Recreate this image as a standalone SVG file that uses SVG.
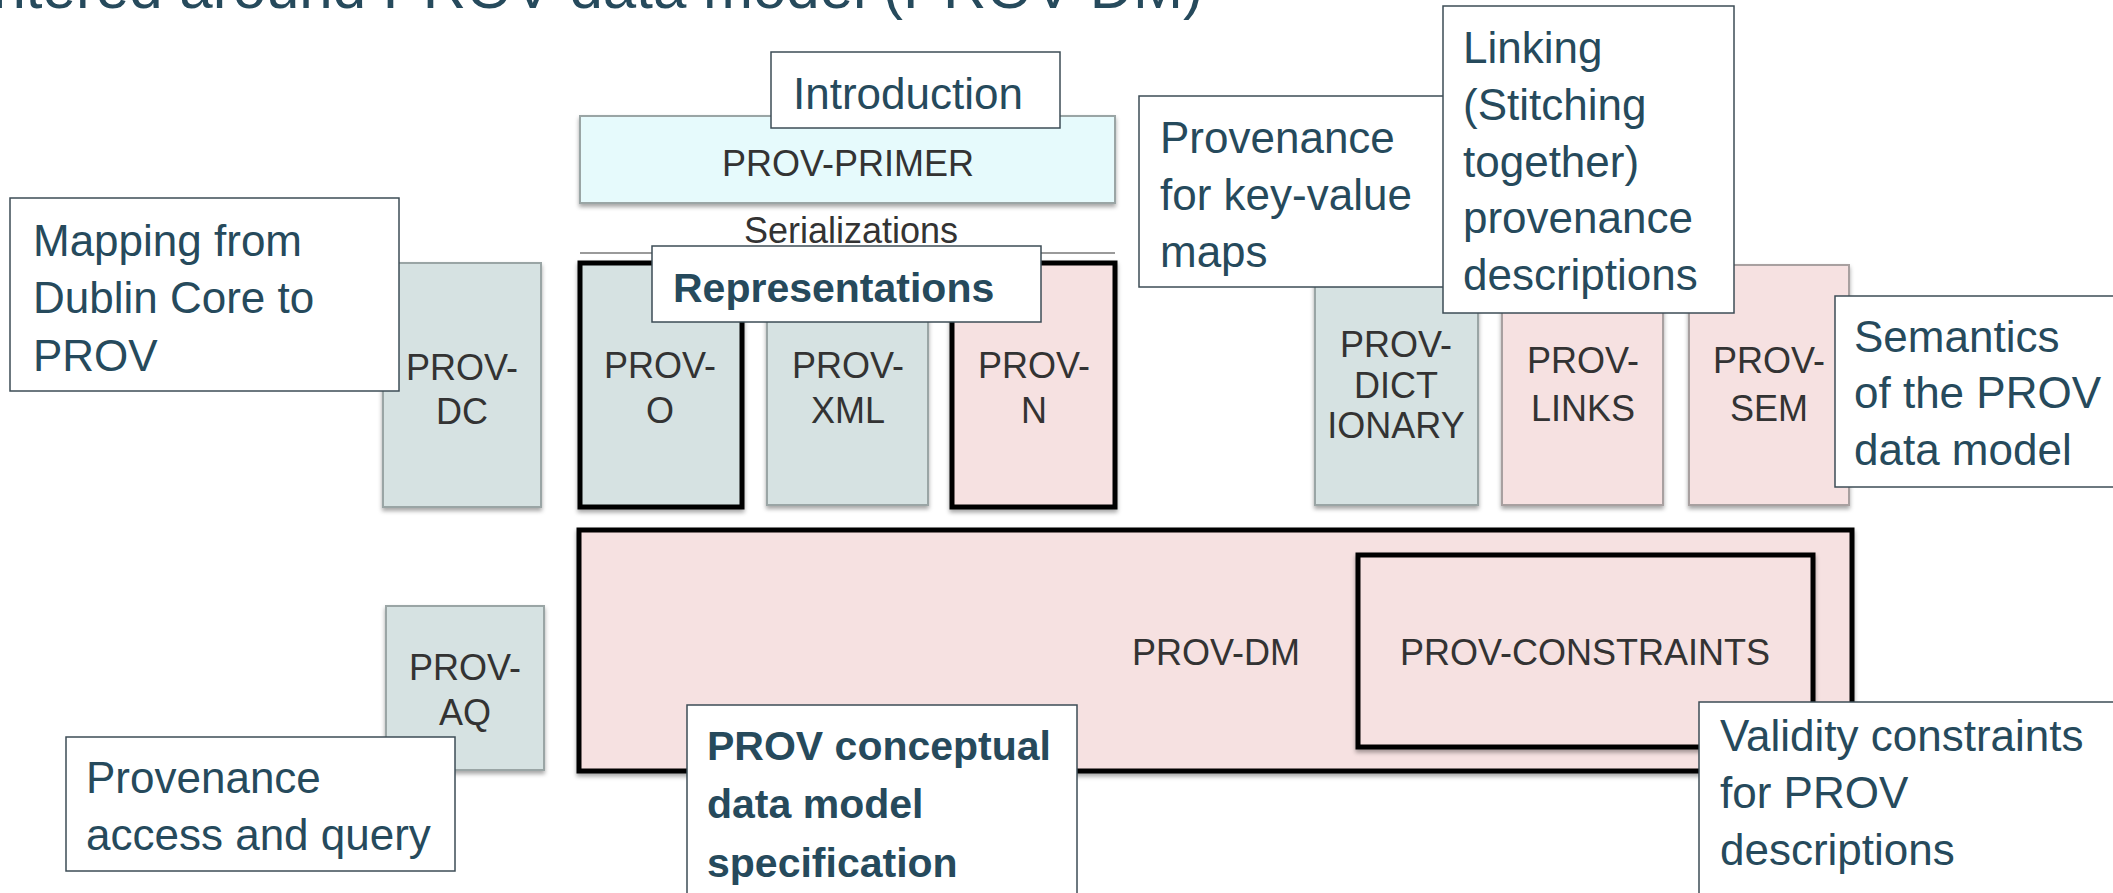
<svg xmlns="http://www.w3.org/2000/svg" width="2113" height="893" viewBox="0 0 2113 893">
<defs>
<filter id="sh" x="-10%" y="-10%" width="120%" height="130%">
<feDropShadow dx="0" dy="3" stdDeviation="2" flood-color="#000" flood-opacity="0.35"/>
</filter>
</defs>
<style>
.blue{fill:#d6e2e2;stroke:#9aa5a5;stroke-width:2}
.pink{fill:#f6e1e1;stroke:#a8a0a0;stroke-width:2}
.cyan{fill:#e6fafc;stroke:#9aa5a5;stroke-width:2}
.thick{stroke:#000;stroke-width:5}
.lbl{font-family:"Liberation Sans",Arial,sans-serif;font-size:36px;fill:#333;text-anchor:middle}
.call{fill:#fff;stroke:#3d4c56;stroke-width:1.5}
.ct{font-family:"Liberation Sans",Arial,sans-serif;font-size:44px;fill:#264a5c}
.cb{font-family:"Liberation Sans",Arial,sans-serif;font-size:41px;font-weight:bold;fill:#264a5c}
.title{font-family:"Liberation Sans",Arial,sans-serif;font-size:60px;fill:#264a5c;text-anchor:end}
</style>
<rect width="2113" height="893" fill="#fff"/>
<text class="title" x="1203" y="8">centered around PROV data model (PROV-DM)</text>

<g id="prov-primer">
<rect class="cyan" x="580" y="116" width="535" height="87" filter="url(#sh)"/>
<text class="lbl" x="848" y="176">PROV-PRIMER</text>
</g>
<g id="serializations">
<text class="lbl" x="851" y="243" font-size="38">Serializations</text>
<line x1="580" y1="253" x2="1115" y2="253" stroke="#9a9a9a" stroke-width="2"/>
</g>
<g id="prov-dc">
<rect class="blue" x="383" y="263" width="158" height="244" filter="url(#sh)"/>
<text class="lbl" x="462" y="380">PROV-</text>
<text class="lbl" x="462" y="424">DC</text>
</g>
<g id="prov-o">
<rect class="blue thick" x="580" y="263" width="162" height="244" filter="url(#sh)"/>
<text class="lbl" x="660" y="378">PROV-</text>
<text class="lbl" x="660" y="423">O</text>
</g>
<g id="prov-xml">
<rect class="blue" x="767" y="263" width="161" height="242" filter="url(#sh)"/>
<text class="lbl" x="848" y="378">PROV-</text>
<text class="lbl" x="848" y="423">XML</text>
</g>
<g id="prov-n">
<rect class="pink thick" x="952" y="263" width="163" height="244" filter="url(#sh)"/>
<text class="lbl" x="1034" y="378">PROV-</text>
<text class="lbl" x="1034" y="423">N</text>
</g>
<g id="prov-dictionary">
<rect class="blue" x="1315" y="265" width="163" height="240" filter="url(#sh)"/>
<text class="lbl" x="1396" y="357" font-size="33">PROV-</text>
<text class="lbl" x="1396" y="398" font-size="33">DICT</text>
<text class="lbl" x="1396" y="438" font-size="33">IONARY</text>
</g>
<g id="prov-links">
<rect class="pink" x="1502" y="265" width="161" height="240" filter="url(#sh)"/>
<text class="lbl" x="1583" y="373" font-size="34">PROV-</text>
<text class="lbl" x="1583" y="421" font-size="34">LINKS</text>
</g>
<g id="prov-sem">
<rect class="pink" x="1689" y="265" width="160" height="240" filter="url(#sh)"/>
<text class="lbl" x="1769" y="373" font-size="34">PROV-</text>
<text class="lbl" x="1769" y="421" font-size="34">SEM</text>
</g>
<g id="prov-dm">
<rect class="pink thick" x="579" y="530" width="1273" height="241" stroke-width="6" filter="url(#sh)"/>
<text class="lbl" x="1216" y="665">PROV-DM</text>
</g>
<g id="prov-constraints">
<rect class="pink thick" x="1358" y="555" width="455" height="192" filter="url(#sh)"/>
<text class="lbl" x="1585" y="665">PROV-CONSTRAINTS</text>
</g>
<g id="prov-aq">
<rect class="blue" x="386" y="606" width="158" height="164" filter="url(#sh)"/>
<text class="lbl" x="465" y="680">PROV-</text>
<text class="lbl" x="465" y="725">AQ</text>
</g>

<g id="connectors"></g>

<g id="note-introduction">
<rect class="call" x="771" y="52" width="289" height="76"/>
<text class="ct" x="793" y="109">Introduction</text>
</g>
<g id="note-representations">
<rect class="call" x="652" y="246" width="389" height="76"/>
<text class="cb" x="673" y="302">Representations</text>
</g>
<g id="note-mapping">
<rect class="call" x="10" y="198" width="389" height="193"/>
<text class="ct" x="33" y="256">Mapping from</text>
<text class="ct" x="33" y="313">Dublin Core to</text>
<text class="ct" x="33" y="371">PROV</text>
</g>
<g id="note-keyvalue">
<rect class="call" x="1139" y="96" width="320" height="191"/>
<text class="ct" x="1160" y="153">Provenance</text>
<text class="ct" x="1160" y="210">for key-value</text>
<text class="ct" x="1160" y="267">maps</text>
</g>
<g id="note-linking">
<rect class="call" x="1443" y="6" width="291" height="307"/>
<text class="ct" x="1463" y="63">Linking</text>
<text class="ct" x="1463" y="120">(Stitching</text>
<text class="ct" x="1463" y="177">together)</text>
<text class="ct" x="1463" y="233">provenance</text>
<text class="ct" x="1463" y="290">descriptions</text>
</g>
<g id="note-semantics">
<rect class="call" x="1835" y="296" width="290" height="191"/>
<text class="ct" x="1854" y="352">Semantics</text>
<text class="ct" x="1854" y="408">of the PROV</text>
<text class="ct" x="1854" y="465">data model</text>
</g>
<g id="note-access">
<rect class="call" x="66" y="737" width="389" height="134"/>
<text class="ct" x="86" y="793">Provenance</text>
<text class="ct" x="86" y="850">access and query</text>
</g>
<g id="note-conceptual">
<rect class="call" x="687" y="705" width="390" height="200"/>
<text class="cb" x="707" y="760">PROV conceptual</text>
<text class="cb" x="707" y="818">data model</text>
<text class="cb" x="707" y="877">specification</text>
</g>
<g id="note-validity">
<rect class="call" x="1699" y="702" width="430" height="200"/>
<text class="ct" x="1720" y="751">Validity constraints</text>
<text class="ct" x="1720" y="808">for PROV</text>
<text class="ct" x="1720" y="865">descriptions</text>
</g>
</svg>
